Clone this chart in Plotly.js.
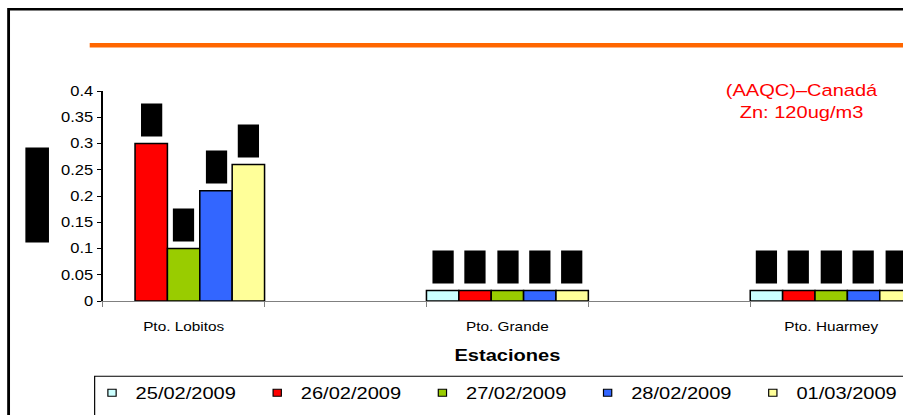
<!DOCTYPE html>
<html>
<head>
<meta charset="utf-8">
<script src="https://cdn.plot.ly/plotly-3.0.1.min.js"></script>
<style>
html,body{margin:0;padding:0;overflow:hidden;background:#fff;width:903px;height:415px;}
#wrap{transform:scaleX(1.18);transform-origin:0 0;width:800px;height:460px;}
#chart{width:800px;height:460px;}
</style>
</head>
<body>
<div id="wrap"><div id="chart"></div></div>
<script>
// ---- data ----
const categories = ["Pto. Lobitos", "", "Pto. Grande", "", "Pto. Huarmey"];
const seriesNames = ["25/02/2009", "26/02/2009", "27/02/2009", "28/02/2009", "01/03/2009"];
const s25_02 = [null, null, 0.02, null, 0.02];
const s26_02 = [0.30, null, 0.02, null, 0.02];
const s27_02 = [0.10, null, 0.02, null, 0.02];
const s28_02 = [0.21, null, 0.02, null, 0.02];
const s01_03 = [0.26, null, 0.02, null, 0.02];
const yTicks = [0, 0.05, 0.1, 0.15, 0.2, 0.25, 0.3, 0.35, 0.4];
const xTitle = "Estaciones";
const noteText = "(AAQC)–Canadá<br>Zn: 120ug/m3";

// ---- styles ----
const colors = ["#CCFFFF", "#FF0000", "#99CC00", "#3366FF", "#FFFF99"];
const series = [s25_02, s26_02, s27_02, s28_02, s01_03];
const FONT = "Arial, 'Liberation Sans', sans-serif";
const xIdx = categories.map((c, i) => i);

const traces = [];
series.forEach((vals, k) => {
  traces.push({
    type: "bar", x: xIdx, y: vals, name: seriesNames[k],
    legendgroup: "g" + k, showlegend: false,
    marker: {color: colors[k], line: {color: "#000", width: 1.3}},
    hoverinfo: "y+name"
  });
});
// legend entries (small square keys)
series.forEach((vals, k) => {
  traces.push({
    type: "scatter", mode: "markers", x: [null], y: [null], name: seriesNames[k],
    legendgroup: "g" + k, showlegend: true,
    marker: {symbol: "square", size: 7, color: colors[k], line: {color: "#000", width: 1}}
  });
});

// redacted data labels (black boxes above each bar)
const annotations = [];
series.forEach((vals, k) => {
  vals.forEach((v, i) => {
    if (v === null) return;
    annotations.push({
      x: i + (k - 2) * 0.2, y: v, xref: "x", yref: "y",
      text: String(v), showarrow: false, xanchor: "center", yanchor: "bottom", yshift: 7,
      width: 17, height: 32, bgcolor: "#000", borderpad: 0,
      font: {color: "#000", size: 6}
    });
  });
});
// redacted y-axis title
annotations.push({
  x: -0.0804, y: 0.503, xref: "paper", yref: "paper", text: " ",
  showarrow: false, xanchor: "center", yanchor: "middle",
  width: 18.6, height: 94, bgcolor: "#000", borderpad: 0,
  font: {size: 6, color: "#000"}
});
// red note
annotations.push({
  x: 0.864, y: 0.9486, xref: "paper", yref: "paper", text: noteText,
  showarrow: false, xanchor: "center", yanchor: "middle", align: "center",
  font: {family: FONT, size: 17, color: "#FF0000"}
});

const shapes = [
  // outer chart border
  {type: "rect", xref: "paper", yref: "paper", x0: -0.1162, x1: 1.5, y0: -1.2, y1: 1.389,
   line: {color: "#000", width: 2.4}, fillcolor: "rgba(0,0,0,0)"},
  // orange line
  {type: "line", xref: "paper", yref: "paper", x0: -0.016, x1: 1.5, y0: 1.2176, y1: 1.2176,
   line: {color: "#FF6600", width: 4.5}},
  // legend box
  {type: "rect", xref: "paper", yref: "paper", x0: -0.0099, x1: 1.5, y0: -1.2, y1: -0.3586,
   line: {color: "#000", width: 1}, fillcolor: "rgba(0,0,0,0)"}
];

const layout = {
  width: 800, height: 460,
  margin: {l: 86.5, r: 27.1, t: 90.7, b: 159.3},
  paper_bgcolor: "#fff", plot_bgcolor: "#fff",
  barmode: "group", bargap: 0, bargroupgap: 0,
  font: {family: FONT, color: "#000"},
  showlegend: true,
  legend: {
    orientation: "h", x: -0.0176, xanchor: "left", y: -0.4395, yanchor: "middle",
    entrywidth: 95, entrywidthmode: "pixels",
    font: {family: FONT, size: 17, color: "#000"},
    bgcolor: "rgba(0,0,0,0)", borderwidth: 0, traceorder: "normal"
  },
  xaxis: {
    type: "linear", range: [-0.5, 4.5], fixedrange: true,
    tickmode: "array", tickvals: xIdx.filter(i => categories[i] !== ""),
    ticktext: categories.filter(c => c !== ""),
    ticks: "", ticklabelstandoff: 13,
    tickfont: {family: FONT, size: 13, color: "#000"},
    minor: {tick0: -0.5, dtick: 1, ticks: "outside", ticklen: 5, tickcolor: "#808080", tickwidth: 1},
    showline: true, linecolor: "#808080", linewidth: 1.3,
    showgrid: false, zeroline: false,
    title: {text: xTitle, standoff: 16, font: {family: FONT, size: 17, color: "#000", weight: "bold"}}
  },
  yaxis: {
    range: [0, 0.4], fixedrange: true,
    tickmode: "array", tickvals: yTicks, ticktext: yTicks.map(v => String(v)),
    ticks: "outside", ticklen: 4.2, tickcolor: "#000", tickwidth: 1,
    tickfont: {family: FONT, size: 14, color: "#000"},
    showline: true, linecolor: "#000", linewidth: 1,
    showgrid: false, zeroline: false
  },
  annotations: annotations,
  shapes: shapes
};

Plotly.newPlot("chart", traces, layout, {staticPlot: true, displayModeBar: false});
</script>
</body>
</html>
